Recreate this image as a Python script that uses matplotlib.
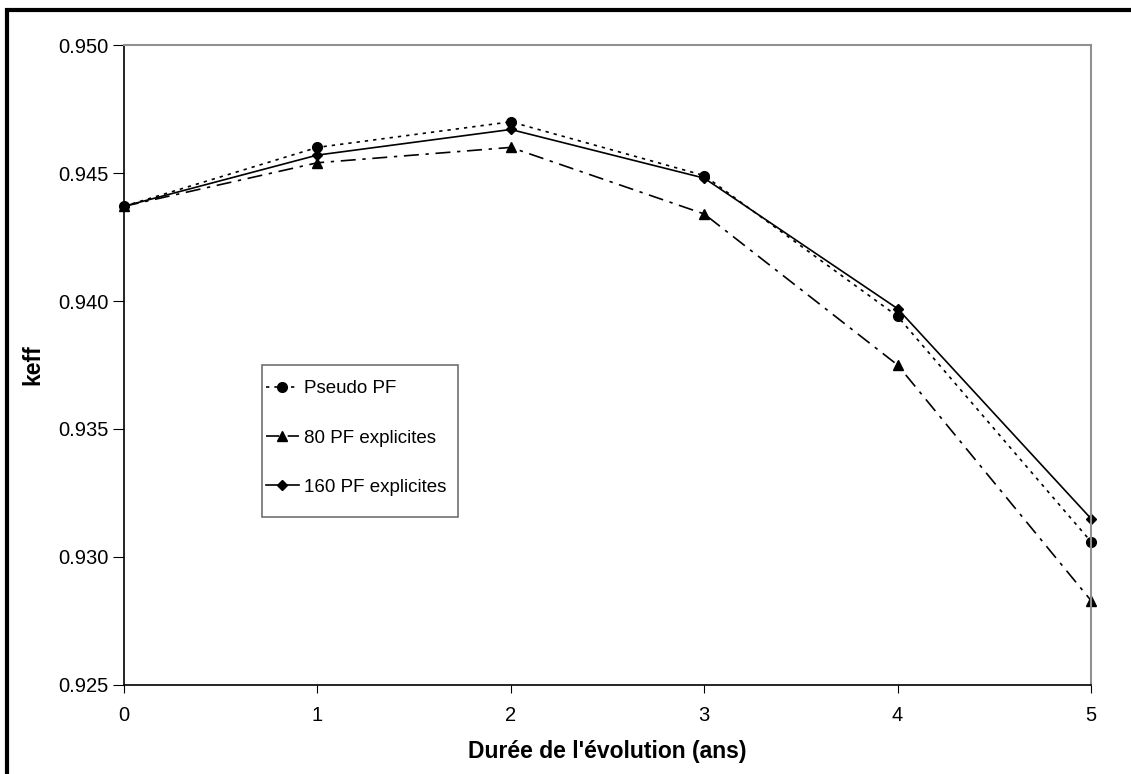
import matplotlib.pyplot as plt
from matplotlib.lines import Line2D
from matplotlib.patches import Rectangle

plt.rcParams["font.family"] = ["Liberation Sans", "DejaVu Sans"]

years = [0, 1, 2, 3, 4, 5]
pseudo_pf = [0.9437, 0.9460, 0.9470, 0.9449, 0.9394, 0.9306]
pf80 = [0.9437, 0.9454, 0.9460, 0.9434, 0.9375, 0.9283]
pf160 = [0.9437, 0.9457, 0.9467, 0.9448, 0.9397, 0.9315]
y_ticks = [0.925, 0.930, 0.935, 0.940, 0.945, 0.950]

W, H = 1131, 774
fig = plt.figure(figsize=(W / 100, H / 100), dpi=100)
ax = fig.add_axes([124 / W, 1 - 685 / H, (1091 - 124) / W, (685 - 45) / H])


def ax_x(px):
    return (px - 124) / 967


def ax_y(py):
    return (685 - py) / 640


ax.plot(years, pseudo_pf, color="black", linestyle=(0, (2, 3)), linewidth=1.2,
        marker="o", markersize=7, clip_on=False)
ax.plot(years, pf80, color="black", linestyle=(0, (9, 4, 2, 4)), linewidth=1.2,
        marker="^", markersize=7, clip_on=False)
ax.plot(years, pf160, color="black", linestyle="-", linewidth=1.2,
        marker="D", markersize=5.5, clip_on=False)

ax.set_xlim(0, 5)
ax.set_ylim(0.925, 0.950)
ax.set_xticks(years)
ax.set_yticks(y_ticks)
ax.set_yticklabels([f"{v:.3f}" for v in y_ticks])
ax.tick_params(labelsize=14.5, color="black", direction="out")
ax.tick_params(axis="y", length=8, pad=3)
ax.tick_params(axis="x", length=6, pad=9)

for side in ["top", "right"]:
    ax.spines[side].set_color("#909090")
    ax.spines[side].set_linewidth(1.5)
for side in ["left", "bottom"]:
    ax.spines[side].set_color("black")
    ax.spines[side].set_linewidth(1.2)

ax.set_xlabel("Durée de l'évolution (ans)", fontsize=16.5, fontweight="bold")
ax.xaxis.set_label_coords(0.5, ax_y(740))
ax.set_ylabel("keff", fontsize=16.5, fontweight="bold")
ax.yaxis.set_label_coords(ax_x(44), 0.5)

# legend box drawn separately so its padding matches the original
ax.add_patch(Rectangle((ax_x(262), ax_y(517)), ax_x(458) - ax_x(262),
                       ax_y(365) - ax_y(517), transform=ax.transAxes,
                       fill=False, edgecolor="#707070", linewidth=1.2, zorder=4))
handles = [
    Line2D([], [], color="black", linestyle=(0, (2, 3)), linewidth=1.2,
           marker="o", markersize=7),
    Line2D([], [], color="black", linestyle=(0, (8, 5)), linewidth=1.2,
           marker="^", markersize=7),
    Line2D([], [], color="black", linestyle="-", linewidth=1.2,
           marker="D", markersize=5.5),
]
labels = ["Pseudo PF", "80 PF explicites", "160 PF explicites"]
ax.legend(handles, labels, loc="upper left",
          bbox_to_anchor=(ax_x(266), ax_y(380)),
          fontsize=13.5, frameon=False, borderpad=0,
          labelspacing=1.72, handlelength=1.75, handletextpad=0.3,
          borderaxespad=0)

# outer chart frame
fig.patches.append(Rectangle((7 / W, -0.05), 1.2, 1 - 10 / H + 0.05,
                             transform=fig.transFigure, fill=False,
                             edgecolor="black", linewidth=3))

fig.savefig("out.png", dpi=100)
